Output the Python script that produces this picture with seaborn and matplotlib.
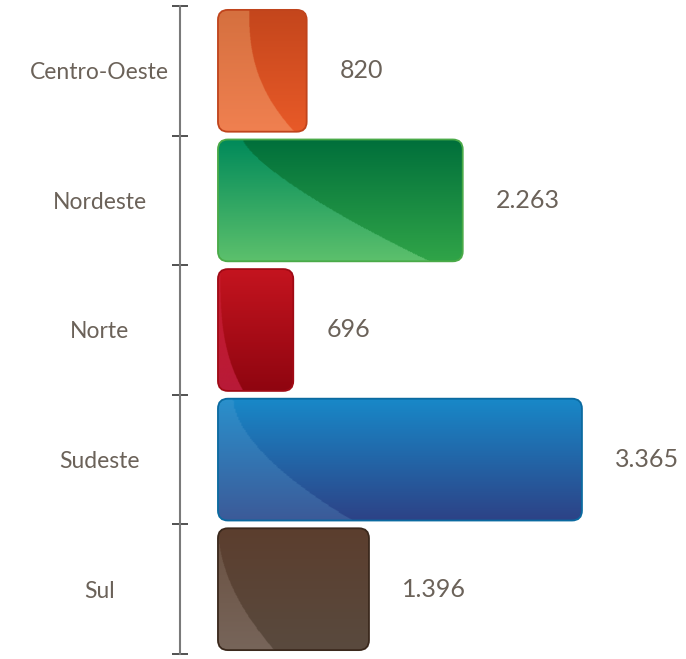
import numpy as np
import matplotlib
matplotlib.use("Agg")
import matplotlib.pyplot as plt
import seaborn as sns
from matplotlib.patches import FancyBboxPatch
from matplotlib.colors import to_rgb

# ------------------------------------------------------------------
# data
# ------------------------------------------------------------------
regions = ["Centro-Oeste", "Nordeste", "Norte", "Sudeste", "Sul"]
totals = [820, 2263, 696, 3365, 1396]

# styling per bar: gradient colours (dark area / glossy area), rim colour
top_colors = ["#c4461c", "#006f3b", "#c4141f", "#1888c8", "#5c3e2e"]
bottom_colors = ["#e85a28", "#30a448", "#8f0510", "#2d4286", "#594a3e"]
light_top = ["#d5703f", "#008a5a", "#c81a2a", "#2a90cc", "#6a5040"]
light_bottom = ["#f08050", "#5cc06c", "#b81a38", "#3c5a98", "#77655a"]
rim_colors = ["#c0441c", "#4aaa48", "#a00a15", "#0a6aa0", "#3a281c"]
# gloss curve: start fraction at top, end fraction at bottom, exponent
gloss = [(0.35, 0.86, 2.5), (0.10, 0.86, 1.35), (0.03, 0.33, 3.0),
         (0.04, 0.37, 1.7), (0.00, 0.37, 1.9)]

TEXT = "#6b6259"

sns.set_theme(style="white")
plt.rcParams["font.family"] = ["Lato", "DejaVu Sans"]

fig = plt.figure(figsize=(6.86, 6.59), dpi=100)
ax = fig.add_axes([180 / 686, 5 / 659, 506 / 686, 648 / 659])

sns.barplot(x=totals, y=regions, hue=regions, palette=top_colors,
            legend=False, width=0.94, orient="h", ax=ax)

XMIN, XMAX = -351, 4327
px_per_x = 506 / (XMAX - XMIN)
px_per_y = 648 / 5
aspect = px_per_x / px_per_y
radius = 10 / px_per_x


def grad(c0, c1, t):
    c0, c1 = np.array(to_rgb(c0)), np.array(to_rgb(c1))
    return c0[None, None, :] * (1 - t[..., None]) + c1[None, None, :] * t[..., None]


for p in list(ax.patches):
    x0, y0, w, h = p.get_x(), p.get_y(), p.get_width(), p.get_height()
    i = int(round(y0 + h / 2))
    p.set_visible(False)

    box = FancyBboxPatch((x0, y0), w, h,
                         boxstyle=f"round,pad=0,rounding_size={radius}",
                         mutation_aspect=aspect, facecolor="none",
                         edgecolor=rim_colors[i], lw=1.3, zorder=3)
    ax.add_patch(box)

    # vertical gradient with a lighter glossy area on the left
    ny, nx = 150, 250
    t = np.linspace(0, 1, ny)[:, None]
    s = np.linspace(0, 1, nx)[None, :]
    dark = np.broadcast_to(grad(top_colors[i], bottom_colors[i], t), (ny, nx, 3))
    lite = np.broadcast_to(grad(light_top[i], light_bottom[i], t), (ny, nx, 3))
    a, b, pw = gloss[i]
    edge = a + (b - a) * t ** pw
    img = np.where((s < edge)[..., None], lite, dark)
    im = ax.imshow(img, extent=(x0, x0 + w, y0 + h, y0), origin="upper",
                   aspect="auto", zorder=2, interpolation="bilinear")
    im.set_clip_path(box)

    label = f"{totals[i]:,}".replace(",", ".")
    ax.text(totals[i] + 33 / px_per_x, i, label, ha="left", va="center",
            fontsize=18, color=TEXT)

ax.set_xlim(XMIN, XMAX)
ax.set_ylim(4.5, -0.5)
ax.set_aspect("auto")

for side in ["top", "right", "bottom"]:
    ax.spines[side].set_visible(False)
ax.spines["left"].set_color("#7a7a7a")
ax.spines["left"].set_linewidth(1.5)

ax.set_xticks([])
ax.set_xlabel("")
ax.set_ylabel("")
ax.set_yticks(range(len(regions)))
ax.set_yticklabels(regions)
ax.set_yticks(np.arange(-0.5, len(regions), 1), minor=True)
ax.tick_params(axis="y", which="major", length=0, pad=58, labelsize=16.5,
               labelcolor=TEXT)
ax.tick_params(axis="y", which="minor", left=True, direction="inout",
               length=11, width=1.2, color="#333333")
for lab in ax.get_yticklabels():
    lab.set_horizontalalignment("center")

fig.savefig("out.png", dpi=100)
